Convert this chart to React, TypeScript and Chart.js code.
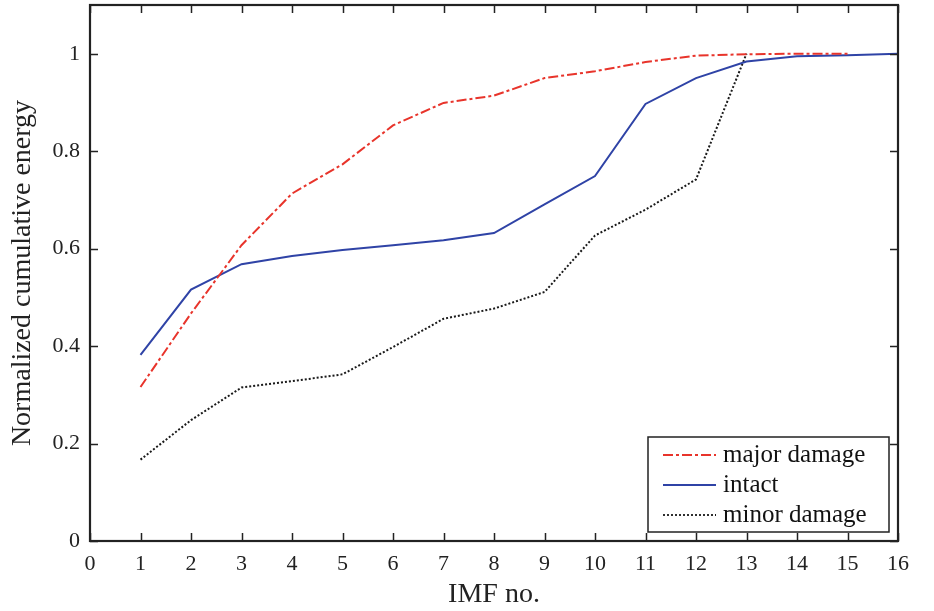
import React, { useEffect, useRef } from "react";
import { Chart, registerables } from "chart.js";

Chart.register(...registerables);

const imfNumbers = [1, 2, 3, 4, 5, 6, 7, 8, 9, 10, 11, 12, 13, 14, 15, 16];
const majorDamage = [0.316, 0.467, 0.607, 0.713, 0.773, 0.853, 0.899, 0.914, 0.950, 0.964, 0.983, 0.996, 0.999, 1.0, 1.0];
const intact = [0.382, 0.516, 0.568, 0.585, 0.597, 0.607, 0.617, 0.632, 0.691, 0.749, 0.897, 0.950, 0.984, 0.995, 0.997, 1.0];
const minorDamage = [0.167, 0.248, 0.315, 0.328, 0.342, 0.398, 0.456, 0.477, 0.511, 0.627, 0.680, 0.742, 1.0];
const xTicks = [0, 1, 2, 3, 4, 5, 6, 7, 8, 9, 10, 11, 12, 13, 14, 15, 16];
const yTicks = [0, 0.2, 0.4, 0.6, 0.8, 1];

const seriesNames = ["major damage", "intact", "minor damage"];
const seriesColors = ["#e8342b", "#2f43a6", "#1a1a1a"];
const seriesDashes: number[][] = [[10, 3, 3, 3], [], [2, 2]];

const SERIF = "'Liberation Serif', 'Times New Roman', serif";

const toPoints = (vals: number[]) => vals.map((v, i) => ({ x: imfNumbers[i], y: v }));

const framePlugin = {
  id: "frameTicks",
  afterDraw(chart: any) {
    const { ctx, chartArea } = chart;
    const { left, right, top, bottom } = chartArea;
    const xs = chart.scales.x;
    const ys = chart.scales.y;
    const tl = 8;
    ctx.save();
    ctx.strokeStyle = "#222";
    ctx.lineWidth = 1.5;
    ctx.beginPath();
    xTicks.forEach((t) => {
      const px = Math.round(xs.getPixelForValue(t)) + 0.5;
      ctx.moveTo(px, bottom);
      ctx.lineTo(px, bottom - tl);
      ctx.moveTo(px, top);
      ctx.lineTo(px, top + tl);
    });
    yTicks.forEach((t) => {
      const py = Math.round(ys.getPixelForValue(t)) + 0.5;
      ctx.moveTo(left, py);
      ctx.lineTo(left + tl, py);
      ctx.moveTo(right, py);
      ctx.lineTo(right - tl, py);
    });
    ctx.stroke();
    ctx.lineWidth = 2.2;
    ctx.strokeRect(left, top, right - left, bottom - top);

    // legend box
    const bx = 648, by = 437, bw = 241, bh = 95;
    ctx.fillStyle = "#fff";
    ctx.fillRect(bx, by, bw, bh);
    ctx.lineWidth = 1.5;
    ctx.strokeStyle = "#222";
    ctx.strokeRect(bx, by, bw, bh);
    ctx.font = `25px ${SERIF}`;
    ctx.textBaseline = "alphabetic";
    ctx.textAlign = "left";
    seriesNames.forEach((name, i) => {
      const cy = by + 23 + i * 30;
      ctx.strokeStyle = seriesColors[i];
      ctx.lineWidth = i === 2 ? 1.8 : 2;
      ctx.setLineDash(seriesDashes[i]);
      ctx.beginPath();
      ctx.moveTo(663, cy - 5);
      ctx.lineTo(716, cy - 5);
      ctx.stroke();
      ctx.setLineDash([]);
      ctx.fillStyle = "#111";
      ctx.fillText(name, 723, cy + 2);
    });
    ctx.restore();
  },
};

export default function App() {
  const ref = useRef<HTMLCanvasElement | null>(null);
  useEffect(() => {
    if (!ref.current) return;
    const chart = new Chart(ref.current, {
      type: "line",
      data: {
        datasets: [
          { label: seriesNames[0], data: toPoints(majorDamage), borderColor: seriesColors[0], borderWidth: 2, borderDash: seriesDashes[0], pointRadius: 0, fill: false, tension: 0 },
          { label: seriesNames[1], data: toPoints(intact), borderColor: seriesColors[1], borderWidth: 2, borderDash: seriesDashes[1], pointRadius: 0, fill: false, tension: 0 },
          { label: seriesNames[2], data: toPoints(minorDamage), borderColor: seriesColors[2], borderWidth: 2, borderDash: seriesDashes[2], pointRadius: 0, fill: false, tension: 0 },
        ],
      },
      options: {
        responsive: false,
        animation: false,
        layout: { padding: { top: 5, right: 36, left: 0, bottom: 0 } },
        plugins: { legend: { display: false }, tooltip: { enabled: false } },
        scales: {
          x: {
            type: "linear",
            min: 0,
            max: 16,
            grid: { display: false },
            border: { display: false },
            afterBuildTicks: (s: any) => { s.ticks = xTicks.map((v) => ({ value: v })); },
            afterFit: (s: any) => { s.height = 70; s.paddingLeft = 0; s.paddingRight = 0; },
            ticks: { color: "#222", padding: 2, font: { family: SERIF, size: 22 }, callback: (v: any) => String(v) },
            title: { display: true, text: "IMF no.", color: "#222", font: { family: SERIF, size: 28 }, padding: { top: 0, bottom: 0 } },
          },
          y: {
            type: "linear",
            min: 0,
            max: 1.1,
            grid: { display: false },
            border: { display: false },
            afterBuildTicks: (s: any) => { s.ticks = yTicks.map((v) => ({ value: v })); },
            afterFit: (s: any) => { s.width = 90; s.paddingTop = 0; s.paddingBottom = 0; },
            ticks: { color: "#222", padding: 2, font: { family: SERIF, size: 22 }, callback: (v: any) => String(+Number(v).toFixed(1)) },
            title: { display: true, text: "Normalized cumulative energy", color: "#222", font: { family: SERIF, size: 28 }, padding: { top: 6, bottom: 0 } },
          },
        },
      },
      plugins: [framePlugin],
    } as any);
    return () => chart.destroy();
  }, []);
  return (
    <div style={{ position: "absolute", left: 0, top: 0, width: 934, height: 611, background: "#fff" }}>
      <canvas ref={ref} width={934} height={611} />
    </div>
  );
}
